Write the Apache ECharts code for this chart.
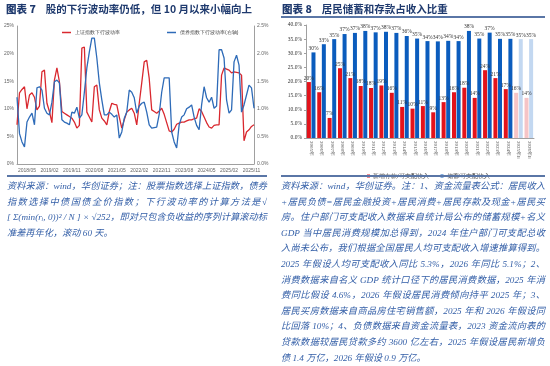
<!DOCTYPE html>
<html>
<head>
<meta charset="utf-8">
<script src="https://cdn.jsdelivr.net/npm/echarts@6/dist/echarts.min.js"></script>
<style>
  html, body { margin: 0; padding: 0; background: #fff; }
  #wrap { position: relative; width: 550px; height: 366px; overflow: hidden; }
  #chart { position: absolute; left: 0; top: 0; width: 550px; height: 366px; }
  .title { position: absolute; top: 1px; font-family: "Noto Sans CJK SC", sans-serif; font-weight: 700;
           font-size: 10.5px; line-height: 15px; color: #1f3a6e; white-space: nowrap; }
  .title b { margin-right: 10px; }
  .rule { position: absolute; height: 2px; background: #5a76a6; }
  .note { position: absolute; font-family: "Liberation Serif", "Noto Sans CJK SC", serif; font-style: italic;
          font-size: 9.2px; color: #3560a8; }
  .note div { height: 15.6px; line-height: 15.6px; text-align: justify; text-align-last: justify; }
  .note div.last { text-align-last: left; }
</style>
</head>
<body>
<div id="wrap">
  <div id="chart"></div>
  <div class="title" style="left:6px"><b>图表 7</b>股的下行波动率仍低，但 10 月以来小幅向上</div>
  <div class="title" style="left:282px"><b>图表 8</b>居民储蓄和存款占收入比重</div>
  <div class="rule" style="left:281px;width:264px;top:16px;height:1.5px"></div>
  <div class="rule" style="left:7px;width:260px;top:175px"></div>
  <div class="rule" style="left:281px;width:264px;top:175px"></div>
  <div class="note" style="left:7px;top:179px;width:260px">
    <div>资料来源：wind，华创证券；注：股票指数选择上证指数，债券</div>
    <div>指数选择中债国债全价指数；下行波动率的计算方法是√</div>
    <div>[ Σ(min(rᵢ, 0))² / N ] × √252，即对只包含负收益的序列计算滚动标</div>
    <div class="last">准差再年化，滚动 60 天。</div>
  </div>
  <div class="note" style="left:281px;top:179px;width:264px">
    <div>资料来源：wind，华创证券。注：1、资金流量表公式：居民收入</div>
    <div>+居民负债=居民金融投资+居民消费+居民存款及现金+居民买</div>
    <div>房。住户部门可支配收入数据来自统计局公布的储蓄规模+名义</div>
    <div>GDP 当中居民消费规模加总得到，2024 年住户部门可支配总收</div>
    <div>入尚未公布，我们根据全国居民人均可支配收入增速推算得到。</div>
    <div>2025 年假设人均可支配收入同比 5.3%，2026 年同比 5.1%；2、</div>
    <div>消费数据来自名义 GDP 统计口径下的居民消费数据，2025 年消</div>
    <div>费同比假设 4.6%，2026 年假设居民消费倾向持平 2025 年；3、</div>
    <div>居民买房数据来自商品房住宅销售额，2025 年和 2026 年假设同</div>
    <div>比回落 10%；4、负债数据来自资金流量表，2023 资金流向表的</div>
    <div>贷款数据较居民贷款多约 3600 亿左右，2025 年假设居民新增负</div>
    <div class="last">债 1.4 万亿，2026 年假设 0.9 万亿。</div>
  </div>
</div>
<script>
// 图表7: 月度，2018/01 - 2025/12
const months = [];
for (let y = 2018; y <= 2025; y += 1) {
  for (let m = 1; m <= 12; m += 1) {
    months.push(y + '/' + (m < 10 ? '0' + m : m));
  }
}
// 上证指数下行波动率 (%，左轴)
const stockVol = [
  7.1, 12.9, 13.5, 14.0, 10.0, 12.5, 12.9, 12.1, 9.8, 10.5,
  16.7, 17.0, 11.0, 9.5, 7.5, 15.2, 17.4, 14.9, 9.5, 9.2,
  8.9, 8.6, 8.3, 7.6, 6.5, 7.0, 21.0, 21.2, 9.4, 8.5,
  7.6, 14.0, 14.3, 9.8, 8.3, 7.8, 7.1, 9.5, 11.0, 10.8,
  10.7, 8.5, 6.5, 8.0, 9.4, 9.8, 10.1, 9.2, 7.1, 11.0,
  14.7, 18.5, 18.8, 15.5, 9.8, 9.5, 9.2, 9.6, 10.1, 9.0,
  7.5, 6.0, 5.8, 6.3, 7.2, 7.4, 7.6, 7.6, 7.8, 8.0,
  8.0, 8.2, 8.3, 10.0, 9.5, 8.5, 7.5, 6.7, 6.5, 7.0,
  7.1, 7.1, 16.1, 17.4, 17.2, 17.0, 16.5, 16.7, 16.6, 16.5,
  16.1, 4.2, 5.8, 6.2, 6.8, 7.1
];
// 债券指数下行波动率 (%，右轴)
const bondVol = [
  1.21, 0.55, 0.40, 0.31, 0.76, 0.85, 0.92, 0.71, 1.38, 1.40,
  1.34, 1.01, 0.92, 0.89, 1.12, 1.49, 1.52, 1.47, 0.80, 0.76,
  0.74, 0.71, 0.94, 0.92, 1.03, 0.83, 0.89, 1.30, 1.74, 2.03,
  2.28, 2.28, 1.92, 1.47, 1.16, 0.89, 0.89, 0.94, 0.90, 0.85,
  0.89, 0.47, 0.58, 0.83, 0.94, 1.34, 1.30, 1.20, 0.92, 1.05,
  1.10, 1.12, 0.94, 0.71, 0.65, 0.66, 0.67, 0.90, 1.30, 1.56,
  1.56, 1.56, 0.58, 0.40, 0.29, 0.71, 0.85, 0.89, 1.00, 1.03,
  1.07, 0.85, 0.70, 0.62, 1.07, 1.40, 1.20, 1.12, 1.21, 1.01,
  1.05, 2.07, 2.07, 1.92, 1.16, 0.92, 0.98, 1.85, 1.97, 1.79,
  0.94, 1.07, 1.25, 1.43, 1.38, 1.01
];

// 图表8: 年度
const years = [
  '2005年', '2006年', '2007年', '2008年', '2009年', '2010年', '2011年', '2012年',
  '2013年', '2014年', '2015年', '2016年', '2017年', '2018年', '2019年', '2020年',
  '2021年', '2022年', '2023年', '2024年', '2025年E', '2026年E'
];
// 新增存款/可支配收入 (%)
const depositRatio = [
  19.8, 16.2, 7.1, 24.7, 21.2, 18.4, 17.7, 18.6, 16.0, 11.0, 10.4,
  11.3, 9.1, 12.7, 16.2, 17.8, 14.2, 24.0, 21.2, 17.3, 16.0, 14.2
];
// 储蓄/可支配收入 (%)
const savingRatio = [
  30.3, 33.2, 35.0, 36.8, 37.2, 37.9, 37.4, 37.6, 37.2, 36.1, 35.2,
  34.3, 34.2, 34.4, 34.3, 37.9, 35.2, 37.3, 35.1, 35.1, 35.0, 35.0
];
const estimateCount = 2;

const RED = '#e3131b';
const BLUE = '#0b5cbd';
const RED_LIGHT = '#f6c4c6';
const BLUE_LIGHT = '#c3d8f1';

const fadeTail = (arr, solid, light) =>
  arr.map((v, i) => (i >= arr.length - estimateCount
    ? { value: v, itemStyle: { color: light } }
    : { value: v, itemStyle: { color: solid } }));

const smallLabel = { fontSize: 5, color: '#666', fontFamily: 'Liberation Sans' };
const greyLine = { show: true, lineStyle: { color: '#a0a0a0', width: 1 } };

const chart = echarts.init(document.getElementById('chart'));
chart.setOption({
  animation: false,
  legend: [
    {
      data: ['上证指数下行波动率'],
      left: 57, top: 25,
      icon: 'rect', itemWidth: 9, itemHeight: 1.5, itemGap: 4,
      textStyle: { fontSize: 5, color: '#444', padding: [0, 0, 0, -1] }
    },
    {
      data: ['债券指数下行波动率(右轴)'],
      left: 162, top: 25,
      icon: 'rect', itemWidth: 9, itemHeight: 1.5,
      textStyle: { fontSize: 5, color: '#444', padding: [0, 0, 0, -1] }
    },
    {
      data: ['新增存款/可支配收入', '储蓄/可支配收入'],
      left: 362, top: 168,
      icon: 'rect', itemWidth: 3, itemHeight: 3, itemGap: 12,
      textStyle: { fontSize: 5.5, color: '#444', padding: [0, 0, 0, -2] }
    }
  ],
  grid: [
    { left: 17, right: 296, top: 26, bottom: 202 },
    { left: 306, right: 16, top: 25, bottom: 228 }
  ],
  xAxis: [
    {
      type: 'category', gridIndex: 0, data: months, boundaryGap: false,
      axisLine: greyLine,
      axisTick: { show: false },
      axisLabel: Object.assign({}, smallLabel, {
        interval: idx => (idx - 4) % 9 === 0, margin: 4, hideOverlap: false
      })
    },
    {
      type: 'category', gridIndex: 1, data: years,
      axisLine: greyLine,
      axisTick: { show: false },
      axisLabel: { interval: 0, rotate: -90, fontSize: 5, color: '#555', margin: 3,
        fontFamily: 'Liberation Serif' }
    }
  ],
  yAxis: [
    {
      type: 'value', gridIndex: 0, min: 0, max: 25, interval: 5,
      axisLine: greyLine, axisTick: { show: false }, splitLine: { show: false },
      axisLabel: Object.assign({}, smallLabel, { formatter: '{value}%', margin: 3 })
    },
    {
      type: 'value', gridIndex: 0, min: 0, max: 2.5, interval: 0.5, position: 'right',
      axisLine: greyLine, axisTick: { show: false }, splitLine: { show: false },
      axisLabel: Object.assign({}, smallLabel, { formatter: v => v.toFixed(1) + '%', margin: 3 })
    },
    {
      type: 'value', gridIndex: 1, min: 0, max: 40, interval: 5,
      axisLine: greyLine,
      axisTick: { show: true, length: 2, lineStyle: { color: '#a0a0a0' } },
      splitLine: { show: false },
      axisLabel: { formatter: v => v.toFixed(1) + '%', fontSize: 5.5, color: '#333',
        fontFamily: 'Liberation Serif', margin: 4 }
    }
  ],
  series: [
    {
      name: '上证指数下行波动率', type: 'line', xAxisIndex: 0, yAxisIndex: 0,
      data: stockVol, symbol: 'none', color: '#d9282f',
      lineStyle: { width: 1.3, color: '#d9282f' }
    },
    {
      name: '债券指数下行波动率(右轴)', type: 'line', xAxisIndex: 0, yAxisIndex: 1,
      data: bondVol, symbol: 'none', color: '#2e6bb8',
      lineStyle: { width: 1.3, color: '#2e6bb8' }
    },
    {
      name: '新增存款/可支配收入', type: 'bar', xAxisIndex: 1, yAxisIndex: 2,
      data: fadeTail(depositRatio, RED, RED_LIGHT), color: RED,
      barWidth: 4, barGap: '15%',
      label: { show: true, position: 'top', distance: 1, fontSize: 5.5, color: '#333',
        fontFamily: 'Liberation Serif', formatter: p => Math.round(p.value) + '%' }
    },
    {
      name: '储蓄/可支配收入', type: 'bar', xAxisIndex: 1, yAxisIndex: 2,
      data: fadeTail(savingRatio, BLUE, BLUE_LIGHT), color: BLUE,
      barWidth: 4, barGap: '15%',
      label: { show: true, position: 'top', distance: 1, fontSize: 5.5, color: '#333',
        fontFamily: 'Liberation Serif', formatter: p => Math.round(p.value) + '%' }
    }
  ]
});
</script>
</body>
</html>
